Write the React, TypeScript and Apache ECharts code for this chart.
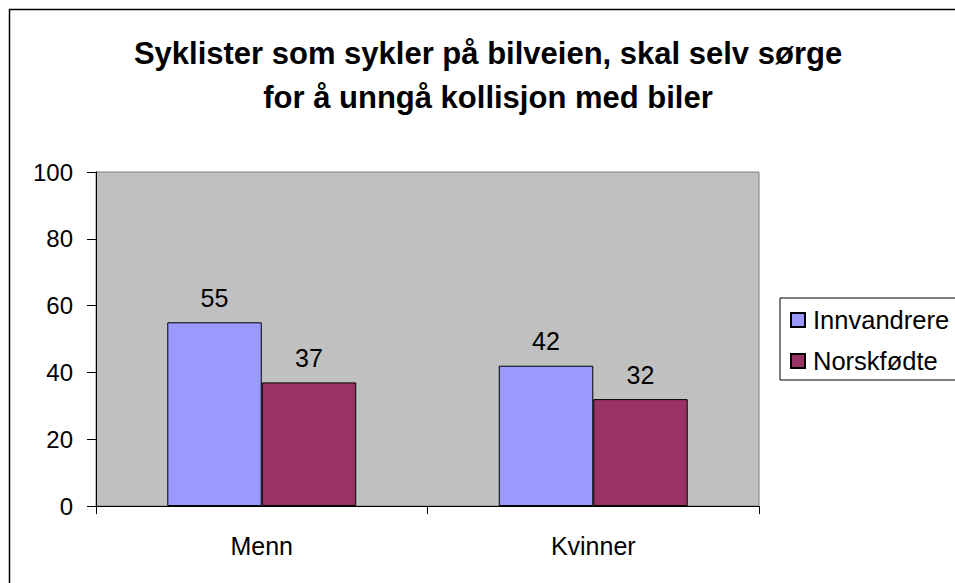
import React, { useEffect, useRef } from "react";
import * as echarts from "echarts";

const titleLines = ["Syklister som sykler på bilveien, skal selv sørge", "for å unngå kollisjon med biler"];
const categories = ["Menn", "Kvinner"];
const seriesNames = ["Innvandrere", "Norskfødte"];
const innvandrere = [55, 42];
const norskfodte = [37, 32];
const seriesColors = ["#9999FF", "#993366"];

const FONT = "'Liberation Sans', Arial, sans-serif";

export default function App() {
  const ref = useRef<HTMLDivElement>(null);
  useEffect(() => {
    const chart = echarts.init(ref.current!, null, { renderer: "svg" });
    const values = [innvandrere, norskfodte];
    chart.setOption({
      animation: false,
      backgroundColor: "#ffffff",
      title: {
        text: titleLines.join("\n"),
        left: 483,
        textAlign: "center",
        top: 26,
        textStyle: {
          fontFamily: FONT,
          fontSize: 31,
          fontWeight: "bold",
          color: "#000",
          lineHeight: 44,
        },
      },
      graphic: [
        {
          type: "rect",
          shape: { x: 9.5, y: 9.5, width: 1000, height: 1000 },
          style: { fill: "none", stroke: "#000", lineWidth: 1.5 },
          silent: true,
        },
      ],
      legend: {
        orient: "vertical",
        left: 780,
        top: 298,
        padding: [9, 40, 6, 10],
        itemGap: 15,
        itemWidth: 14,
        itemHeight: 14,
        borderColor: "#000",
        borderWidth: 1,
        icon: "rect",
        textStyle: { fontFamily: FONT, fontSize: 25.5, color: "#000", padding: [0, 0, 0, 3] },
        data: seriesNames,
      },
      grid: {
        left: 96,
        top: 172,
        right: 196,
        bottom: 77,
        show: true,
        backgroundColor: "#C0C0C0",
        borderColor: "#808080",
        borderWidth: 1,
      },
      xAxis: {
        type: "category",
        data: categories,
        axisLine: { show: true, lineStyle: { color: "#000", width: 1 } },
        axisTick: { show: true, length: 8, lineStyle: { color: "#000" } },
        axisLabel: { fontFamily: FONT, fontSize: 25, color: "#000", margin: 27 },
        splitLine: { show: false },
      },
      yAxis: {
        type: "value",
        min: 0,
        max: 100,
        interval: 20,
        axisLine: { show: true, lineStyle: { color: "#000", width: 1 } },
        axisTick: { show: true, length: 9, lineStyle: { color: "#000" } },
        axisLabel: { fontFamily: FONT, fontSize: 24, color: "#000", margin: 23 },
        splitLine: { show: false },
      },
      series: seriesNames.map((name, i) => ({
        name,
        type: "bar",
        data: values[i],
        barGap: "0%",
        barCategoryGap: "43%",
        itemStyle: { color: seriesColors[i], borderColor: "#000", borderWidth: 1 },
        label: {
          show: true,
          position: "top",
          distance: 12,
          fontFamily: FONT,
          fontSize: 25,
          color: "#000",
        },
      })),
    });
    return () => chart.dispose();
  }, []);
  return (
    <div
      ref={ref}
      style={{ position: "fixed", left: 0, top: 0, width: 955, height: 583 }}
    />
  );
}
